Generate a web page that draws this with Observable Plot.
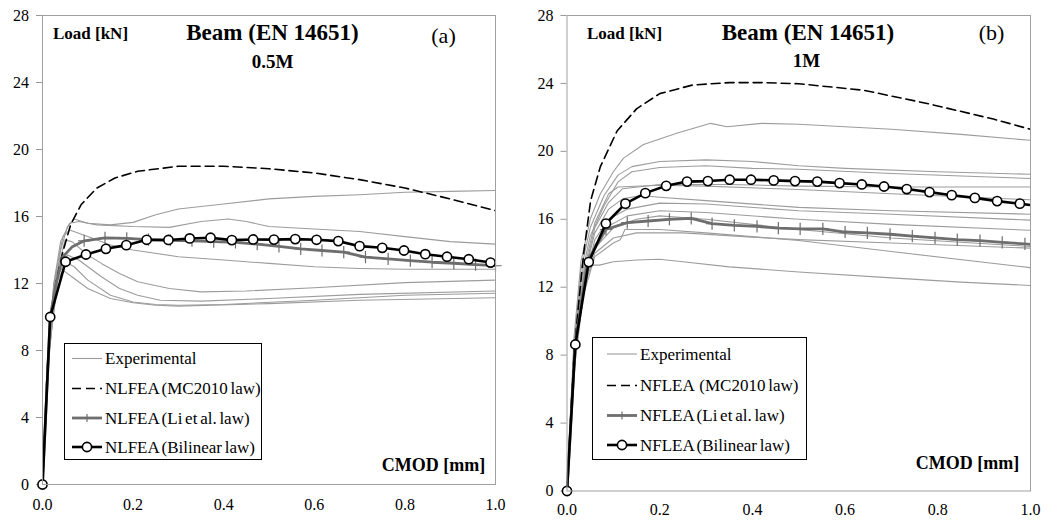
<!DOCTYPE html>
<html>
<head>
<meta charset="utf-8">
<script src="https://cdn.jsdelivr.net/npm/d3@7"></script>
<script src="https://cdn.jsdelivr.net/npm/@observablehq/plot@0.6"></script>
<style>
  html, body { margin: 0; padding: 0; background: #fff; }
  #wrap { position: relative; width: 1058px; height: 521px; overflow: hidden; font-family: "Liberation Serif", "DejaVu Serif", serif; }
  .panel { position: absolute; top: 0; }
  .legend { position: absolute; border: 1px solid #000; background: #fff; box-sizing: border-box; }
  .legend svg { position: absolute; left: 0; top: 0; }
</style>
</head>
<body>
<div id="wrap"></div>
<script>
// ---------- axis ticks ----------
const yTicks = [0, 4, 8, 12, 16, 20, 24, 28];
const xTicks = [0, 0.2, 0.4, 0.6, 0.8, 1.0];

// ---------- panel (a) 0.5M ----------
const aExp1 = [[0,0],[0.01,6],[0.025,11],[0.04,14],[0.055,15.4],[0.07,15.85],[0.1,15.6],[0.15,15.5],[0.2,15.65],[0.25,16.1],[0.3,16.45],[0.4,16.75],[0.5,17.05],[0.6,17.2],[0.7,17.3],[0.8,17.45],[0.9,17.5],[1.0,17.55]];
const aExp2 = [[0,0],[0.01,7],[0.025,12],[0.04,14.5],[0.06,15.6],[0.08,15.7],[0.12,15.5],[0.2,15.4],[0.28,15.35],[0.35,15.7],[0.41,15.85],[0.45,15.7],[0.5,15.4],[0.6,15.25],[0.7,15.1],[0.8,14.8],[0.9,14.5],[1.0,14.35]];
const aExp3 = [[0,0],[0.01,7],[0.025,12],[0.045,14.8],[0.06,15.2],[0.1,14.8],[0.15,14.3],[0.2,14.0],[0.3,13.6],[0.4,13.4],[0.5,13.2],[0.6,13.0],[0.7,12.9],[0.8,12.85],[1.0,12.85]];
const aExp4 = [[0,0],[0.01,7],[0.03,12.5],[0.05,14.6],[0.065,14.5],[0.1,13.7],[0.13,13.2],[0.17,12.6],[0.21,12.1],[0.28,11.7],[0.35,11.5],[0.45,11.55],[0.6,11.75],[0.8,12.05],[1.0,12.2]];
const aExp5 = [[0,0],[0.015,8],[0.035,12.8],[0.055,13.7],[0.08,13.4],[0.13,12.4],[0.17,11.7],[0.21,11.3],[0.26,11.0],[0.35,10.95],[0.5,11.1],[0.7,11.35],[1.0,11.55]];
const aExp6 = [[0,0],[0.015,8],[0.035,12.5],[0.05,13.3],[0.07,13.0],[0.1,12.2],[0.15,11.3],[0.2,10.9],[0.25,10.75],[0.3,10.7],[0.4,10.75],[0.6,11.0],[0.8,11.3],[1.0,11.42]];
const aExp7 = [[0,0],[0.015,9],[0.03,12],[0.045,12.8],[0.07,12.3],[0.1,11.7],[0.15,11.1],[0.2,10.85],[0.25,10.7],[0.3,10.65],[0.5,10.8],[0.7,11.0],[1.0,11.15]];
const aMC2010 = [[0,0],[0.017,10],[0.03,12.1],[0.045,13.9],[0.062,15.5],[0.085,16.7],[0.12,17.7],[0.16,18.3],[0.21,18.7],[0.3,19.0],[0.4,19.0],[0.5,18.85],[0.6,18.6],[0.7,18.2],[0.8,17.7],[0.9,17.05],[1.0,16.35]];
const aLi = [[0,0],[0.017,10],[0.03,12.0],[0.045,13.6],[0.066,14.2],[0.092,14.55],[0.138,14.72],[0.186,14.7],[0.234,14.62],[0.282,14.58],[0.33,14.55],[0.378,14.5],[0.426,14.45],[0.474,14.35],[0.522,14.21],[0.57,14.07],[0.617,13.97],[0.665,13.87],[0.713,13.57],[0.763,13.47],[0.812,13.37],[0.86,13.27],[0.908,13.21],[0.956,13.13],[1.0,13.06]];
const aBilinear = [[0,0],[0.017,10],[0.051,13.3],[0.096,13.73],[0.14,14.07],[0.185,14.29],[0.23,14.61],[0.278,14.6],[0.325,14.69],[0.371,14.73],[0.418,14.59],[0.465,14.63],[0.511,14.62],[0.558,14.65],[0.605,14.61],[0.653,14.53],[0.70,14.23],[0.75,14.13],[0.798,13.97],[0.845,13.75],[0.893,13.6],[0.941,13.45],[0.989,13.25]];

// ---------- panel (b) 1M ----------
const bExp1 = [[0,0],[0.015,9],[0.03,13.5],[0.05,16],[0.072,17.5],[0.1,18.8],[0.122,19.6],[0.165,20.4],[0.24,21.1],[0.31,21.65],[0.345,21.45],[0.42,21.65],[0.5,21.6],[0.6,21.45],[0.7,21.3],[0.85,21.0],[1.0,20.65]];
const bExp2 = [[0,0],[0.015,8.5],[0.03,13],[0.05,15.5],[0.08,17.4],[0.11,18.6],[0.14,19.1],[0.2,19.4],[0.3,19.5],[0.4,19.4],[0.5,19.15],[0.6,19.0],[0.8,18.8],[1.0,18.65]];
const bExp3 = [[0,0],[0.015,8],[0.03,12.5],[0.05,15],[0.08,16.8],[0.11,18.2],[0.14,18.8],[0.2,19.05],[0.3,19.15],[0.4,19.0],[0.5,18.95],[0.7,18.7],[1.0,18.4]];
const bExp4 = [[0,0],[0.015,8],[0.035,12.5],[0.06,15.5],[0.09,17.0],[0.12,17.8],[0.2,18.05],[0.35,18.05],[0.5,17.95],[0.7,17.9],[1.0,17.9]];
const bExp5 = [[0,0],[0.015,8],[0.035,12.8],[0.06,15.8],[0.09,17.5],[0.11,17.9],[0.2,18.0],[0.3,17.95],[0.5,17.75],[0.7,17.5],[1.0,17.15]];
const bExp6 = [[0,0],[0.015,8],[0.035,12.5],[0.06,15.2],[0.09,16.6],[0.12,17.2],[0.16,17.4],[0.2,17.3],[0.3,17.1],[0.5,16.7],[0.7,16.5],[1.0,16.3]];
const bExp7 = [[0,0],[0.015,7.5],[0.035,12],[0.06,14.8],[0.09,16.0],[0.13,16.6],[0.2,16.95],[0.3,16.9],[0.5,16.5],[0.7,16.3],[1.0,15.95]];
const bExp8 = [[0,0],[0.015,7.5],[0.035,12],[0.06,14.5],[0.09,15.6],[0.13,16.2],[0.2,16.5],[0.3,16.4],[0.5,16.0],[0.7,15.7],[1.0,15.35]];
const bExp9 = [[0,0],[0.015,7.5],[0.035,12],[0.06,14.3],[0.1,15.5],[0.15,16.0],[0.2,16.2],[0.3,16.0],[0.5,15.4],[0.7,14.9],[1.0,14.4]];
const bExp10 = [[0,0],[0.015,7],[0.035,11.5],[0.06,13.8],[0.1,14.6],[0.115,14.8],[0.125,15.4],[0.2,15.4],[0.3,15.2],[0.5,14.75],[0.7,14.1],[1.0,13.15]];
const bExp11 = [[0,0],[0.015,7],[0.035,11.8],[0.06,14.0],[0.1,14.9],[0.15,15.2],[0.25,15.2],[0.4,14.95],[0.5,14.8],[0.7,14.6],[1.0,14.3]];
const bExp12 = [[0,0],[0.01,6],[0.025,11],[0.04,13.3],[0.07,13.3],[0.1,13.5],[0.15,13.6],[0.2,13.65],[0.25,13.5],[0.35,13.2],[0.5,12.9],[0.7,12.55],[0.85,12.3],[1.0,12.1]];
const bMC2010 = [[0,0],[0.015,8],[0.025,11],[0.036,14],[0.051,17.1],[0.072,19.1],[0.108,21.2],[0.15,22.5],[0.2,23.4],[0.27,23.9],[0.35,24.05],[0.42,24.05],[0.5,23.98],[0.64,23.6],[0.78,22.8],[0.92,21.9],[1.0,21.3]];
const bLi = [[0,0],[0.018,8.7],[0.045,13.6],[0.084,15.4],[0.13,15.8],[0.175,15.9],[0.221,16.0],[0.268,16.05],[0.313,15.74],[0.361,15.64],[0.41,15.58],[0.456,15.48],[0.503,15.44],[0.552,15.44],[0.6,15.25],[0.648,15.2],[0.697,15.12],[0.745,15.01],[0.794,14.91],[0.842,14.8],[0.891,14.74],[0.939,14.64],[0.988,14.55],[1.03,14.45]];
const bBilinear = [[0,0],[0.018,8.63],[0.047,13.48],[0.084,15.75],[0.126,16.92],[0.169,17.54],[0.214,17.97],[0.259,18.22],[0.304,18.25],[0.351,18.33],[0.397,18.33],[0.446,18.29],[0.492,18.25],[0.54,18.22],[0.588,18.13],[0.636,18.05],[0.684,17.93],[0.733,17.78],[0.782,17.6],[0.83,17.42],[0.88,17.26],[0.928,17.07],[0.977,16.92],[1.025,16.75]];

const legendA = ["Experimental", "NLFEA (MC2010 law)", "NLFEA (Li et al. law)", "NLFEA (Bilinear law)"];
const legendB = ["Experimental", "NFLEA  (MC2010 law)", "NFLEA (Li et al. law)", "NFLEA (Bilinear law)"];

const FONT = "Liberation Serif, DejaVu Serif, serif";
const EXP_COLOR = "#9c9c9c";
const LI_COLOR = "#6e6e6e";

function toRows(arr, name) { return arr.map(([x, y]) => ({x, y, name})); }

function panel(cfg) {
  const exp = cfg.exp.flatMap((a, i) => toRows(a, "e" + i));
  const mc = toRows(cfg.mc, "mc");
  const li = toRows(cfg.li, "li");
  const bl = toRows(cfg.bl, "bl");
  return Plot.plot({
    width: 529, height: 521,
    marginLeft: cfg.ml, marginRight: cfg.mr, marginTop: 15, marginBottom: cfg.mb,
    style: {fontFamily: FONT, fontSize: "16px", color: "#000", background: "transparent"},
    x: {domain: [0, 1], ticks: xTicks},
    y: {domain: [0, 28], ticks: yTicks},
    marks: [
      Plot.axisX({ticks: xTicks, tickFormat: d3.format(".1f"), tickSize: 0, tickPadding: cfg.xpad, label: null, fontSize: 16}),
      Plot.axisY({ticks: yTicks, tickSize: 6, tickPadding: 7.5, stroke: "#999", label: null, fontSize: 16}),
      Plot.line(exp, {x: "x", y: "y", z: "name", stroke: EXP_COLOR, strokeWidth: 1.1, clip: true}),
      Plot.line(mc, {x: "x", y: "y", stroke: "#000", strokeWidth: 1.6, strokeDasharray: "9,5", clip: true}),
      Plot.line(li, {x: "x", y: "y", stroke: LI_COLOR, strokeWidth: 2.8, clip: true}),
      Plot.dot(li.filter(d => d.x > 0.08 && d.x <= 1), {x: "x", y: "y", symbol: "plus", r: 4, stroke: LI_COLOR, strokeWidth: 1.2}),
      Plot.line(bl, {x: "x", y: "y", stroke: "#000", strokeWidth: 2.6, clip: true}),
      Plot.dot(bl.filter(d => d.x <= 1), {x: "x", y: "y", r: 4.6, stroke: "#000", fill: "#fff", strokeWidth: 1.6}),
      Plot.frame({stroke: "#a0a0a0", strokeWidth: 1}),
      Plot.text([cfg.texts.load], {frameAnchor: "top-left", dx: cfg.pos.load[0], dy: cfg.pos.load[1], text: d => d, fontWeight: "bold", fontSize: 17, textAnchor: "middle", lineAnchor: "middle"}),
      Plot.text([cfg.texts.title], {frameAnchor: "top-left", dx: cfg.pos.title[0], dy: cfg.pos.title[1], text: d => d, fontWeight: "bold", fontSize: 23, textAnchor: "middle", lineAnchor: "middle"}),
      Plot.text([cfg.texts.sub], {frameAnchor: "top-left", dx: cfg.pos.sub[0], dy: cfg.pos.sub[1], text: d => d, fontWeight: "bold", fontSize: 19, textAnchor: "middle", lineAnchor: "middle"}),
      Plot.text([cfg.texts.tag], {frameAnchor: "top-left", dx: cfg.pos.tag[0], dy: cfg.pos.tag[1], text: d => d, fontSize: 22, textAnchor: "middle", lineAnchor: "middle"}),
      Plot.text([cfg.texts.cmod], {frameAnchor: "top-left", dx: cfg.pos.cmod[0], dy: cfg.pos.cmod[1], text: d => d, fontWeight: "bold", fontSize: 18, textAnchor: "middle", lineAnchor: "middle"})
    ]
  });
}

function legend(labels, box) {
  const div = document.createElement("div");
  div.className = "legend";
  Object.assign(div.style, {left: box.left + "px", top: box.top + "px", width: box.w + "px", height: box.h + "px"});
  const svg = d3.create("svg").attr("width", box.w).attr("height", box.h);
  const styles = [
    {stroke: EXP_COLOR, w: 1.1, dash: null, mark: null},
    {stroke: "#000", w: 1.6, dash: "9,5", mark: null},
    {stroke: LI_COLOR, w: 2.8, dash: null, mark: "plus"},
    {stroke: "#000", w: 2.6, dash: null, mark: "circle"}
  ];
  labels.forEach((lab, i) => {
    const y = box.rows[i];
    const s = styles[i];
    const ln = svg.append("line").attr("x1", box.x0).attr("x2", box.x1).attr("y1", y).attr("y2", y)
      .attr("stroke", s.stroke).attr("stroke-width", s.w);
    if (s.dash) ln.attr("stroke-dasharray", s.dash);
    const cx = (box.x0 + box.x1) / 2;
    if (s.mark === "plus") svg.append("line").attr("x1", cx).attr("x2", cx).attr("y1", y - 4).attr("y2", y + 4).attr("stroke", s.stroke).attr("stroke-width", 1.2);
    if (s.mark === "circle") svg.append("circle").attr("cx", cx).attr("cy", y).attr("r", 4.6).attr("fill", "#fff").attr("stroke", "#000").attr("stroke-width", 1.6);
    svg.append("text").attr("x", box.tx).attr("y", y).attr("dy", "0.35em").attr("font-family", FONT).attr("font-size", box.fs)
      .attr("word-spacing", "-1.5").style("white-space", "pre").text(lab);
  });
  div.appendChild(svg.node());
  return div;
}

const wrap = document.getElementById("wrap");

const left = document.createElement("div");
left.className = "panel"; left.style.left = "0px";
left.appendChild(panel({
  exp: [aExp1, aExp2, aExp3, aExp4, aExp5, aExp6, aExp7], mc: aMC2010, li: aLi, bl: aBilinear,
  ml: 42, mr: 34, mb: 37, xpad: 14,
  texts: {load: "Load [kN]", title: "Beam (EN 14651)", sub: "0.5M", tag: "(a)", cmod: "CMOD [mm]"},
  pos: {load: [48, 18], title: [230, 17], sub: [230, 46], tag: [401, 20], cmod: [391, 450]}
}));
wrap.appendChild(left);

const right = document.createElement("div");
right.className = "panel"; right.style.left = "529px";
right.appendChild(panel({
  exp: [bExp1, bExp2, bExp3, bExp4, bExp5, bExp6, bExp7, bExp8, bExp9, bExp10, bExp11, bExp12], mc: bMC2010, li: bLi, bl: bBilinear,
  ml: 37.5, mr: 28, mb: 30.5, xpad: 13,
  texts: {load: "Load [kN]", title: "Beam (EN 14651)", sub: "1M", tag: "(b)", cmod: "CMOD [mm]"},
  pos: {load: [57.5, 18], title: [241, 17], sub: [239.5, 45], tag: [424.5, 17.5], cmod: [400.5, 447.5]}
}));
wrap.appendChild(right);

wrap.appendChild(legend(legendA, {left: 64, top: 343, w: 198, h: 117, rows: [14.5, 44.5, 74, 103], x0: 7, x1: 37, tx: 40, fs: 17}));
wrap.appendChild(legend(legendB, {left: 592, top: 337, w: 215, h: 123, rows: [16, 47.5, 77.5, 107], x0: 14, x1: 44, tx: 47, fs: 17}));
</script>
</body>
</html>
